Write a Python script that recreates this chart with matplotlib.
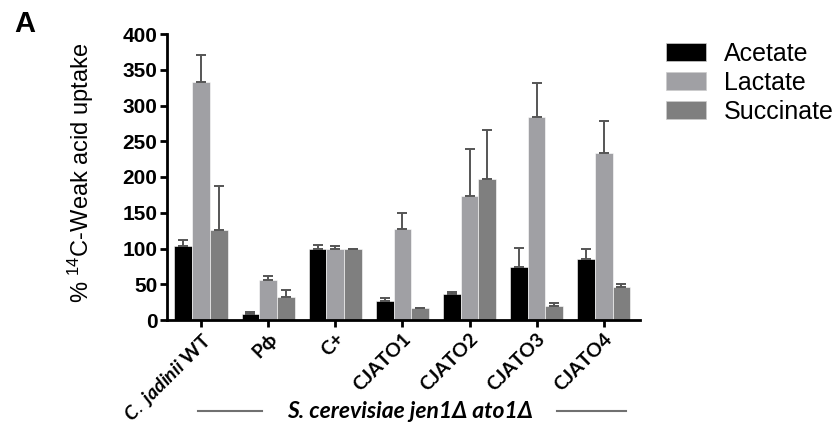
import matplotlib
matplotlib.use("Agg")
import matplotlib.pyplot as plt
import numpy as np
from matplotlib.patches import Patch
from matplotlib.lines import Line2D

plt.rcParams['mathtext.fontset'] = 'custom'
plt.rcParams['mathtext.rm'] = 'Liberation Sans'
plt.rcParams['mathtext.it'] = 'Lato:italic:bold'
plt.rcParams['mathtext.bf'] = 'Liberation Sans:bold'

categories = ["$\\mathit{C.\\ jadinii}$ WT", "Pϕ", "C+", "CJATO1", "CJATO2", "CJATO3", "CJATO4"]
series = ["Acetate", "Lactate", "Succinate"]
acetate = [103, 9, 100, 27, 37, 74, 85]
acetate_err = [9, 2.5, 5, 4, 1.5, 27, 15]
lactate = [333, 56, 100, 127, 173, 284, 233]
lactate_err = [38, 5, 4, 22, 66, 48, 45]
succinate = [126, 32, 100, 16.5, 197, 19, 46]
succinate_err = [62, 10, 0, 0.5, 69, 5, 5]
yticks = [0, 50, 100, 150, 200, 250, 300, 350, 400]

colors = ["#000000", "#a0a0a4", "#7f7f7f"]

fig = plt.figure(figsize=(8.38, 4.30), dpi=100)
W, H = 838, 430
ax = fig.add_axes([167 / W, 1 - 320 / H, (640 - 167) / W, (320 - 34) / H])

x = np.arange(len(categories))
w = 0.264
vals = [acetate, lactate, succinate]
errs = [acetate_err, lactate_err, succinate_err]
for i, (v, e) in enumerate(zip(vals, errs)):
    pos = x + (i - 1) * w
    ax.bar(pos, v, width=w, color=colors[i], edgecolor='white', linewidth=0.4, zorder=2)
    ax.errorbar(pos, v, yerr=[np.zeros(len(e)), e], fmt='none', ecolor='#555555',
                elinewidth=1.4, capsize=3.5, capthick=1.4, zorder=3)

ax.set_xlim(-0.507, 6.54)
ax.set_ylim(0, 400)
ax.set_yticks(yticks)
ax.set_yticklabels([str(t) for t in yticks], fontsize=15, fontweight='bold', family='Liberation Sans')
ax.set_xticks(x)
ax.set_xticklabels(categories, rotation=45, ha='right', rotation_mode='anchor',
                   fontsize=14, fontweight='bold', family=['Lato', 'DejaVu Sans'])
for s in ['top', 'right']:
    ax.spines[s].set_visible(False)
for s in ['left', 'bottom']:
    ax.spines[s].set_linewidth(2.0)
ax.tick_params(axis='y', length=5, width=2.0, pad=2)
ax.tick_params(axis='x', length=5, width=2.0, pad=2)

ax.set_ylabel("% $^{14}$C-Weak acid uptake", fontsize=17, family='Liberation Sans')
ax.yaxis.set_label_coords(-0.15, 0.515)

fig.text(14 / W, 1 - 24 / H, "A", fontsize=21, fontweight='bold', family='Liberation Sans',
         va='center', ha='left')

handles = [Patch(facecolor=c, edgecolor='#cccccc', linewidth=0.5) for c in colors]
fig.legend(handles, series, loc='upper left', bbox_to_anchor=(666 / W, 1 - 42 / H),
           frameon=False, prop={'family': 'Liberation Sans', 'size': 18},
           handlelength=1.6, handleheight=0.72, handletextpad=0.7, labelspacing=0.2,
           borderaxespad=0, borderpad=0)

yb = 1 - 411 / H
fig.add_artist(Line2D([198 / W, 262 / W], [yb, yb], color='#707070', lw=1.5))
fig.add_artist(Line2D([557 / W, 626 / W], [yb, yb], color='#707070', lw=1.5))
fig.text(410 / W, yb, "S. cerevisiae jen1Δ ato1Δ", ha='center', va='center',
         fontsize=16.5, fontweight='bold', style='italic', family=['Lato', 'DejaVu Sans'])

fig.savefig("out.png", dpi=100)
